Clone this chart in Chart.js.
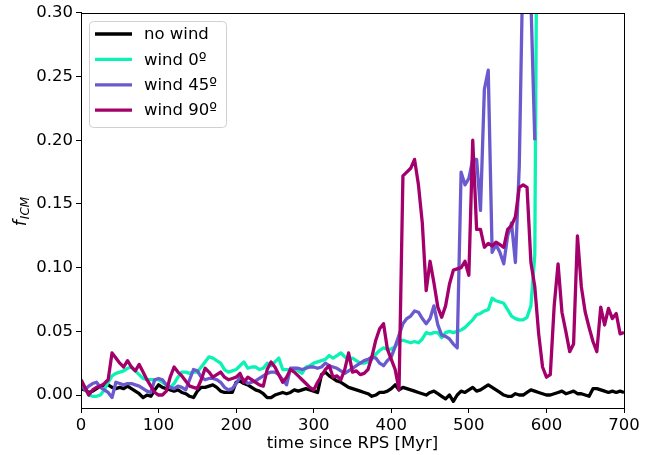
<!DOCTYPE html>
<html>
<head>
<meta charset="utf-8">
<script src="https://cdn.jsdelivr.net/npm/chart.js@4.4.0/dist/chart.umd.min.js"></script>
<style>
    html, body { margin: 0; padding: 0; background: #fff; }
</style>
</head>
<body>
<canvas id="ficmChart" width="652" height="455"></canvas>
<script>
// sampling step of the runs (Myr)
const timeStep = 5;
const xTicks = [0, 100, 200, 300, 400, 500, 600, 700];
const yTicks = [0.00, 0.05, 0.10, 0.15, 0.20, 0.25, 0.30];

// f_ICM, one value every 5 Myr starting at t = 0
const noWind = [
    0.005, 0.004, 0.002, 0.003, 0.005, 0.007, 0.008, 0.008, 0.006, 0.005,
    0.006, 0.005, 0.007, 0.005, 0.003, 0.001, -0.002, 0.000, -0.001, 0.004,
    0.008, 0.006, 0.005, 0.004, 0.003, 0.004, 0.002, 0.001, -0.001, -0.002,
    0.003, 0.006, 0.006, 0.007, 0.008, 0.006, 0.003, 0.002, 0.002, 0.002,
    0.010, 0.011, 0.009, 0.008, 0.006, 0.004, 0.003, 0.001, -0.002, -0.002,
    0.000, 0.001, 0.002, 0.001, 0.002, 0.004, 0.003, 0.004, 0.005, 0.004,
    0.003, 0.002, 0.016, 0.018, 0.015, 0.013, 0.011, 0.010, 0.008, 0.006,
    0.005, 0.004, 0.003, 0.002, 0.001, -0.001, 0.000, 0.002, 0.002, 0.003,
    0.005, 0.008, 0.004, 0.006, 0.005, 0.004, 0.003, 0.002, 0.001, 0.000,
    0.002, 0.003, 0.001, -0.001, -0.003, 0.000, -0.005, 0.000, 0.003, 0.002,
    0.004, 0.006, 0.003, 0.004, 0.006, 0.008, 0.006, 0.004, 0.002, 0.000,
    -0.001, -0.001, 0.001, 0.000, 0.000, 0.002, 0.004, 0.003, 0.002, 0.001,
    0.000, 0.000, 0.001, 0.002, 0.003, 0.001, 0.002, 0.003, 0.001, 0.001,
    0.000, -0.001, 0.005, 0.005, 0.004, 0.003, 0.002, 0.003, 0.002, 0.003,
    0.002
];
const wind0 = [
    0.012, 0.005, 0.000, -0.001, -0.001, 0.000, 0.004, 0.010, 0.015, 0.017,
    0.018, 0.019, 0.021, 0.022, 0.019, 0.016, 0.013, 0.012, 0.012, 0.012,
    0.012, 0.010, 0.008, 0.006, 0.009, 0.014, 0.018, 0.018, 0.017, 0.018,
    0.018, 0.022, 0.026, 0.030, 0.029, 0.027, 0.025, 0.020, 0.018, 0.019,
    0.020, 0.023, 0.026, 0.021, 0.022, 0.022, 0.020, 0.021, 0.025, 0.023,
    0.026, 0.029, 0.020, 0.020, 0.020, 0.021, 0.019, 0.017, 0.022, 0.023,
    0.025, 0.026, 0.027, 0.028, 0.031, 0.029, 0.031, 0.033, 0.030, 0.028,
    0.029, 0.027, 0.025, 0.025, 0.026, 0.028, 0.032, 0.035, 0.037, 0.036,
    0.036, 0.038, 0.042, 0.043, 0.042, 0.041, 0.042, 0.041, 0.044, 0.049,
    0.048, 0.049, 0.049, 0.045, 0.049, 0.050, 0.049, 0.050, 0.051, 0.053,
    0.056, 0.059, 0.063, 0.064, 0.066, 0.067, 0.076, 0.074, 0.073, 0.072,
    0.067, 0.062, 0.060, 0.059, 0.059, 0.061, 0.070, 0.110, 0.600
];
const wind45 = [
    0.009, 0.004, 0.007, 0.009, 0.010, 0.006, 0.004, 0.002, -0.002, 0.010,
    0.009, 0.008, 0.009, 0.009, 0.008, 0.007, 0.005, 0.003, 0.002, 0.012,
    0.013, 0.012, 0.008, 0.006, 0.005, 0.007, 0.006, 0.004, 0.012, 0.020,
    0.019, 0.014, 0.012, 0.013, 0.013, 0.012, 0.010, 0.006, 0.004, 0.005,
    0.009, 0.014, 0.012, 0.009, 0.010, 0.011, 0.013, 0.015, 0.017, 0.018,
    0.018, 0.016, 0.012, 0.008, 0.021, 0.021, 0.021, 0.020, 0.021, 0.022,
    0.022, 0.021, 0.022, 0.025, 0.023, 0.022, 0.021, 0.019, 0.017, 0.019,
    0.021, 0.023, 0.025, 0.027, 0.028, 0.030, 0.029, 0.025, 0.023, 0.027,
    0.030, 0.038, 0.047, 0.056, 0.060, 0.062, 0.066, 0.065, 0.060, 0.056,
    0.060, 0.070, 0.055, 0.047, 0.046, 0.044, 0.040, 0.037, 0.175, 0.165,
    0.170, 0.185, 0.185, 0.145, 0.240, 0.255, 0.112, 0.118, 0.112, 0.103,
    0.125, 0.135, 0.104, 0.180, 0.350, 0.450, 0.310, 0.200
];
const wind90 = [
    0.012, 0.006, 0.000, 0.004, 0.006, 0.007, 0.009, 0.012, 0.033, 0.029,
    0.025, 0.022, 0.027, 0.022, 0.019, 0.024, 0.018, 0.012, 0.007, 0.002,
    0.000, 0.000, 0.003, 0.014, 0.022, 0.018, 0.015, 0.011, 0.007, 0.006,
    0.005, 0.012, 0.021, 0.018, 0.014, 0.016, 0.018, 0.014, 0.012, 0.013,
    0.014, 0.017, 0.010, 0.014, 0.012, 0.010, 0.008, 0.007, 0.020, 0.026,
    0.022, 0.016, 0.010, 0.014, 0.020, 0.018, 0.015, 0.012, 0.009, 0.006,
    0.004, 0.010, 0.015, 0.020, 0.023, 0.014, 0.015, 0.012, 0.020, 0.033,
    0.018, 0.019, 0.016, 0.017, 0.020, 0.030, 0.043, 0.052, 0.056, 0.036,
    0.028, 0.020, 0.004, 0.172, 0.175, 0.178, 0.185, 0.165, 0.135, 0.082,
    0.105, 0.088, 0.069, 0.061, 0.070, 0.087, 0.098, 0.099, 0.100, 0.105,
    0.094, 0.200, 0.130, 0.130, 0.116, 0.119, 0.117, 0.120, 0.118, 0.116,
    0.130, 0.133, 0.140, 0.163, 0.165, 0.163, 0.104, 0.085, 0.048, 0.022,
    0.014, 0.016, 0.070, 0.103, 0.065, 0.050, 0.034, 0.040, 0.125, 0.085,
    0.065, 0.053, 0.042, 0.034, 0.069, 0.055, 0.068, 0.060, 0.064, 0.048,
    0.049
];

function toPoints(values) {
    return values.map((v, i) => ({ x: i * timeStep, y: v }));
}

document.addEventListener('DOMContentLoaded', function() {
    Chart.defaults.font.family = "'DejaVu Sans', sans-serif";
    Chart.defaults.color = '#000';

    const fontSize = 16.5;

    // frame on all four sides, like matplotlib spines
    const framePlugin = {
        id: 'frame',
        afterDatasetsDraw(chart) {
            const a = chart.chartArea;
            const ctx = chart.ctx;
            ctx.save();
            ctx.strokeStyle = '#000';
            ctx.lineWidth = 1;
            ctx.strokeRect(Math.round(a.left) + 0.5, Math.round(a.top) + 0.5,
                Math.round(a.right - a.left), Math.round(a.bottom - a.top));
            ctx.restore();
        }
    };

    // legend box in the upper left of the plot
    const legendPlugin = {
        id: 'insideLegend',
        afterDraw(chart) {
            const ctx = chart.ctx;
            const x0 = 89.5, y0 = 21.5, w = 137, h = 106;
            ctx.save();
            ctx.beginPath();
            ctx.roundRect(x0, y0, w, h, 4);
            ctx.fillStyle = 'rgba(255,255,255,0.8)';
            ctx.fill();
            ctx.strokeStyle = '#d0d0d0';
            ctx.lineWidth = 1;
            ctx.stroke();
            ctx.font = fontSize + "px 'DejaVu Sans'";
            ctx.textBaseline = 'middle';
            chart.data.datasets.forEach((ds, i) => {
                const y = 34 + i * 25.4;
                ctx.strokeStyle = ds.borderColor;
                ctx.lineWidth = 3.3;
                ctx.beginPath();
                ctx.moveTo(95, y);
                ctx.lineTo(132, y);
                ctx.stroke();
                ctx.fillStyle = '#000';
                ctx.fillText(ds.label, 144, y + 1);
            });
            ctx.restore();
        }
    };

    // y axis label f_ICM (italic, subscript)
    const yLabelPlugin = {
        id: 'yLabel',
        afterDraw(chart) {
            const ctx = chart.ctx;
            ctx.save();
            ctx.translate(20, 212);
            ctx.rotate(-Math.PI / 2);
            ctx.fillStyle = '#000';
            ctx.font = "italic 17px 'DejaVu Sans'";
            const fW = ctx.measureText('f').width;
            ctx.font = "italic 12px 'DejaVu Sans'";
            const sW = ctx.measureText('ICM').width;
            const start = -(fW + sW) / 2;
            ctx.font = "italic 17px 'DejaVu Sans'";
            ctx.fillText('f', start, 6);
            ctx.font = "italic 12px 'DejaVu Sans'";
            ctx.fillText('ICM', start + fW + 1, 9);
            ctx.restore();
        }
    };

    const ctx = document.getElementById('ficmChart').getContext('2d');
    new Chart(ctx, {
        type: 'line',
        data: {
            datasets: [
                { label: 'no wind', data: toPoints(noWind), borderColor: '#000000', order: 4 },
                { label: 'wind 0º', data: toPoints(wind0), borderColor: '#0cf2b4', order: 3 },
                { label: 'wind 45º', data: toPoints(wind45), borderColor: '#6a5acd', order: 2 },
                { label: 'wind 90º', data: toPoints(wind90), borderColor: '#a3006b', order: 1 }
            ].map(ds => Object.assign(ds, {
                borderWidth: 3.3,
                pointRadius: 0,
                tension: 0,
                fill: false,
                clip: 0,
                borderJoinStyle: 'round'
            }))
        },
        options: {
            responsive: false,
            animation: false,
            devicePixelRatio: 1,
            layout: { padding: { top: 12, right: 28, left: 0, bottom: 0 } },
            plugins: {
                legend: { display: false },
                tooltip: { enabled: false }
            },
            scales: {
                x: {
                    type: 'linear',
                    min: 0,
                    max: 700,
                    afterBuildTicks: s => { s.ticks = xTicks.map(v => ({ value: v })); },
                    afterFit: s => { s.height = 47; },
                    grid: { drawOnChartArea: false, drawTicks: true, tickLength: 5, color: '#000' },
                    border: { display: true, color: '#000' },
                    ticks: { font: { size: fontSize }, padding: 3, maxRotation: 0 },
                    title: {
                        display: true,
                        text: 'time since RPS [Myr]',
                        font: { size: fontSize },
                        padding: { top: 0, bottom: 1 }
                    }
                },
                y: {
                    type: 'linear',
                    min: -0.0102,
                    max: 0.30,
                    afterBuildTicks: s => { s.ticks = yTicks.map(v => ({ value: v })); },
                    afterFit: s => { s.width = 81; },
                    grid: { drawOnChartArea: false, drawTicks: true, tickLength: 5, color: '#000' },
                    border: { display: true, color: '#000' },
                    ticks: {
                        font: { size: fontSize },
                        padding: 3,
                        callback: v => v.toFixed(2)
                    }
                }
            }
        },
        plugins: [framePlugin, legendPlugin, yLabelPlugin]
    });
});
</script>
</body>
</html>
